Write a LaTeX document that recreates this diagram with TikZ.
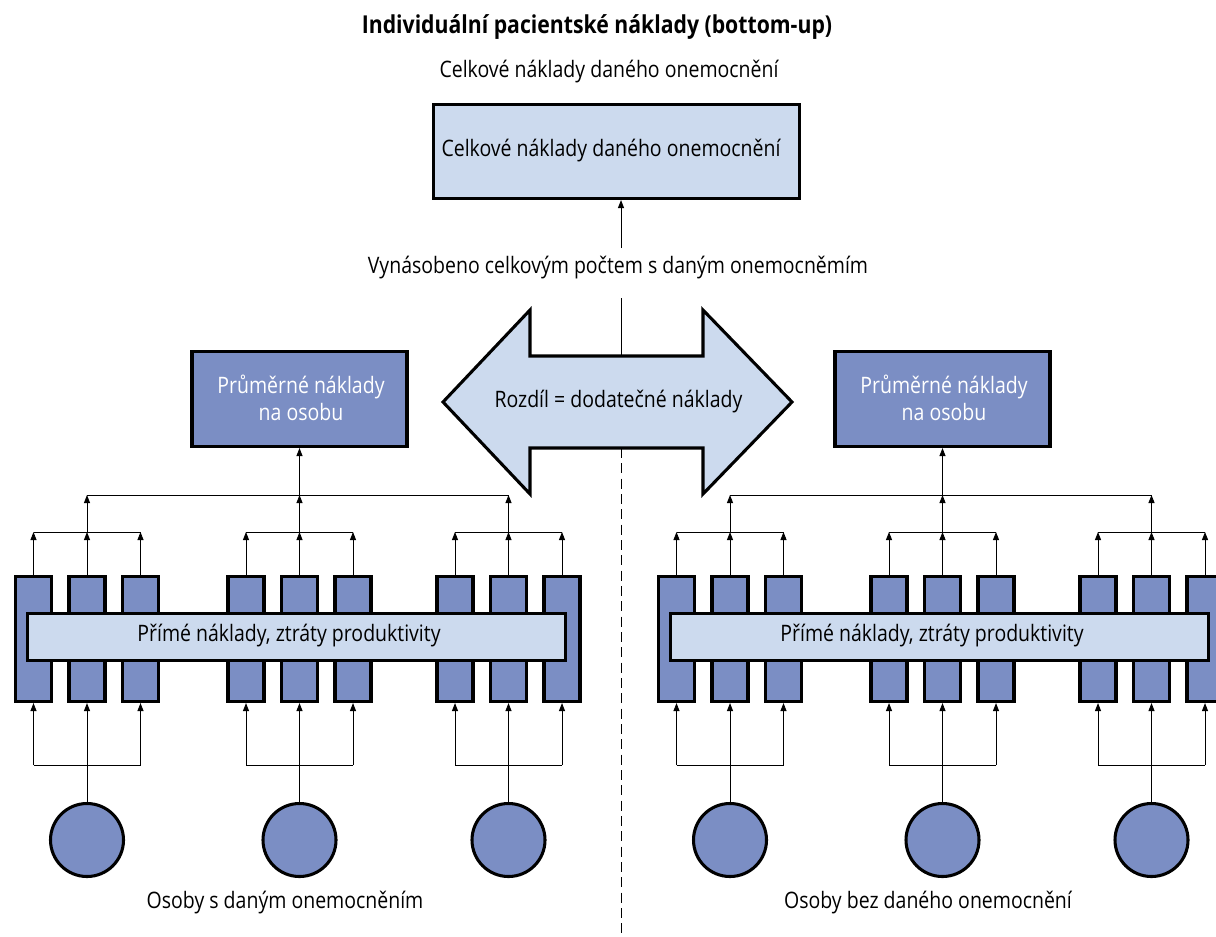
\documentclass[tikz,border=0pt]{standalone}
\usepackage{fontspec}
\setmainfont[FakeStretch=0.86]{Open Sans}
\usetikzlibrary{arrows.meta}
\definecolor{lightb}{HTML}{CCDAEE}
\definecolor{darkb}{HTML}{7B8EC4}
\begin{document}
\begin{tikzpicture}[x=0.75pt,y=-0.75pt,
  thickbox/.style={draw=black,line width=2.3pt},
  lbox/.style={thickbox,fill=lightb,inner sep=0pt},
  dbox/.style={thickbox,fill=darkb,inner sep=0pt},
  sbox/.style={dbox,minimum width=27pt,minimum height=93.75pt},
  pcirc/.style={dbox,circle,minimum size=54.75pt},
  conn/.style={line width=0.7pt},
  arr/.style={conn,-{Triangle[width=4.5pt,length=6pt]}},
  txt/.style={font=\fontsize{17}{20.5}\selectfont,inner sep=0pt},
  btxt/.style={font=\bfseries\fontsize{18.5}{22}\selectfont,inner sep=0pt},
]
\useasboundingbox (0,0) rectangle (1216,936);
\clip (0,0) rectangle (1216,936);

% title area
\node[btxt] (title) at (597,27) {Individuální pacientské náklady (bottom-up)};
\node[txt] (sub) at (609,72) {Celkové náklady daného onemocnění};
\node[lbox,minimum width=274.5pt,minimum height=70.5pt] (top) at (616.5,151.5) {};
\node[txt] (toptext) at (611,151) {Celkové náklady daného onemocnění};
\coordinate (a1) at (621,248);
\draw[arr] (a1) -- (a1 |- top.south);
\node[txt] (mult) at (618,268) {Vynásobeno celkovým počtem s daným onemocněmím};

% double arrow
\draw[thickbox,fill=lightb] (443,402) -- (530,310) -- (530,356) -- (703,356) -- (703,310)
  -- (792,402) -- (703,494) -- (703,448) -- (530,448) -- (530,494) -- cycle;
\node[txt] (diff) at (618.5,402) {Rozdíl = dodatečné náklady};
\coordinate (multlow) at (621,298);
\coordinate (shafttop) at (621,356);
\coordinate (shaftbot) at (621,448);
\coordinate (dashend) at (621,936);
\draw[conn] (multlow) -- (shafttop);
\draw[conn,dash pattern=on 7.5pt off 4pt] (shaftbot) -- (dashend);

\foreach \s/\o/\lab in {L/0/{Osoby s daným onemocněním},R/643/{Osoby bez daného onemocnění}} {
  % average box
  \node[dbox,minimum width=161.25pt,minimum height=71.25pt] (avg\s) at (299.5+\o,399) {};
  \node[txt,text=white,align=center] (avgt\s) at (301+\o,398) {Průměrné náklady\\na osobu};
  \coordinate (hub\s) at (299.5+\o,495);
  \draw[arr] (hub\s) -- (avg\s.south);
  % groups
  \foreach \g/\gx in {1/33.5,2/246,3/455} {
    \foreach \b in {1,2,3} {
      \node[sbox] (b\s\g\b) at ({\gx+53.5*(\b-1)+\o},639) {};
    }
    \coordinate (up\s\g) at ({\gx+53.5+\o},532);
    \coordinate (dn\s\g) at ({\gx+53.5+\o},765);
    \foreach \b in {1,2,3} {
      \draw[arr] (b\s\g\b.north) -- (b\s\g\b.north |- up\s\g);
    }
    \draw[conn] (b\s\g1.north |- up\s\g) -- (b\s\g3.north |- up\s\g);
    \draw[arr] (up\s\g) -- (up\s\g |- hub\s);
    % bottom
    \node[pcirc] (c\s\g) at ({\gx+53.5+\o},840) {};
    \draw[arr] (c\s\g.north) -- (b\s\g2.south);
    \draw[conn] (b\s\g1.south |- dn\s\g) -- (b\s\g3.south |- dn\s\g);
    \draw[arr] (b\s\g1.south |- dn\s\g) -- (b\s\g1.south);
    \draw[arr] (b\s\g3.south |- dn\s\g) -- (b\s\g3.south);
  }
  \draw[conn] (up\s1 |- hub\s) -- (up\s3 |- hub\s);
  % wide box
  \node[lbox,minimum width=403.5pt,minimum height=35.25pt] (wide\s) at (296.5+\o,637) {};
  \node[txt] (widet\s) at (289+\o,636) {Přímé náklady, ztráty produktivity};
  \node[txt] (people\s) at (285+\o,903) {\lab};
}
\end{tikzpicture}
\end{document}
